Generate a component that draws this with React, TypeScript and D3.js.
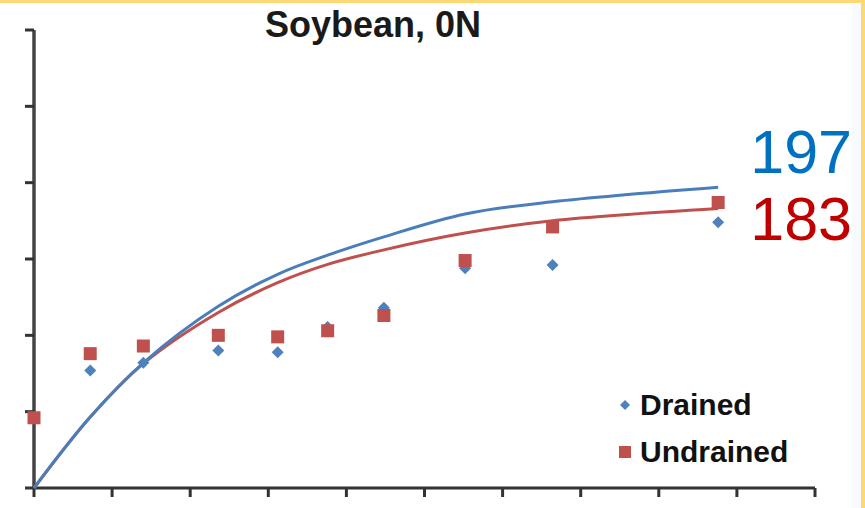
import React from "react";
import * as d3 from "d3";

const xValues = [0, 18, 35, 59, 78, 94, 112, 138, 166, 219];
const undrainedObs = [46, 88, 93, 100, 99, 103, 113, 149, 171, 187];
const drainedObsX = [18, 35, 59, 78, 94, 112, 138, 166, 219];
const drainedObs = [77, 82, 90, 89, 105.5, 118, 144, 146, 174];
const drainedModel = [0, 46.5, 82, 119, 140, 152.5, 164.5, 179.5, 187.5, 197];
const undrainedModel = [0, 46.5, 81.5, 115, 134.5, 146.5, 156, 167, 175, 183];
const xTicks = [0, 25, 50, 75, 100, 125, 150, 175, 200, 225, 250];
const yTicks = [0, 50, 100, 150, 200, 250, 300];
const title = "Soybean, 0N";
const seriesNames = ["Drained", "Undrained"];
const endLabels = ["197", "183"];

const W = 865;
const H = 508;

export default function App() {
  const x = d3.scaleLinear().domain([0, 250]).range([34, 815]);
  const y = d3.scaleLinear().domain([0, 300]).range([488, 30]);
  const line = d3
    .line<number>()
    .x((_, i) => x(xValues[i]))
    .y((d) => y(d))
    .curve(d3.curveCatmullRom.alpha(0.5));
  const dia = "M0,-6L6,0L0,6L-6,0Z";
  const font = "'Liberation Sans', Arial, sans-serif";
  const blue = "#4f81bd";
  const red = "#c0504d";
  return (
    <svg
      width={W}
      height={H}
      style={{ position: "absolute", left: 0, top: 0, background: "#fff" }}
    >
      <rect x={0} y={0} width={W} height={3} fill="#fbd976" />
      <rect x={861} y={0} width={4} height={H} fill="#fbd976" />
      <rect x={852} y={3} width={9} height={H} fill="#f7fbfd" />

      <text x={373} y={37} textAnchor="middle" fontFamily={font} fontWeight="bold" fontSize={36} fill="#1a1a1a">
        {title}
      </text>

      {/* axes */}
      <line x1={x(0)} x2={x(250)} y1={y(0)} y2={y(0)} stroke="#333" strokeWidth={3} />
      <line x1={x(0)} x2={x(0)} y1={y(0) + 1} y2={y(300)} stroke="#444" strokeWidth={3.5} />
      {yTicks.map((t) => (
        <line key={"y" + t} x1={x(0) - 9} x2={x(0)} y1={y(t)} y2={y(t)} stroke="#333" strokeWidth={3} />
      ))}
      {xTicks.map((t) => (
        <line key={"x" + t} x1={x(t)} x2={x(t)} y1={y(0)} y2={y(0) + 9} stroke="#333" strokeWidth={3} />
      ))}

      {/* model curves */}
      <path d={line(undrainedModel) || ""} fill="none" stroke={red} strokeWidth={3} />
      <path d={line(drainedModel) || ""} fill="none" stroke="#4a7ebb" strokeWidth={3} />

      {/* observed */}
      {drainedObs.map((v, i) => (
        <path key={"d" + i} d={dia} transform={`translate(${x(drainedObsX[i])},${y(v)})`} fill={blue} />
      ))}
      {undrainedObs.map((v, i) => (
        <rect key={"u" + i} x={x(xValues[i]) - 6.5} y={y(v) - 6.5} width={13} height={13} fill={red} />
      ))}

      {/* end labels */}
      <text x={852} y={173} textAnchor="end" fontFamily={font} fontSize={61} fill="#0070c0">
        {endLabels[0]}
      </text>
      <text x={852} y={240} textAnchor="end" fontFamily={font} fontSize={61} fill="#c00000">
        {endLabels[1]}
      </text>

      {/* legend */}
      <path d="M0,-5L5,0L0,5L-5,0Z" transform="translate(625,405)" fill={blue} />
      <text x={640} y={415} fontFamily={font} fontWeight="bold" fontSize={30} fill="#111">
        {seriesNames[0]}
      </text>
      <rect x={619} y={446} width={12} height={12} fill={red} />
      <text x={640} y={462} fontFamily={font} fontWeight="bold" fontSize={30} fill="#111">
        {seriesNames[1]}
      </text>
    </svg>
  );
}
